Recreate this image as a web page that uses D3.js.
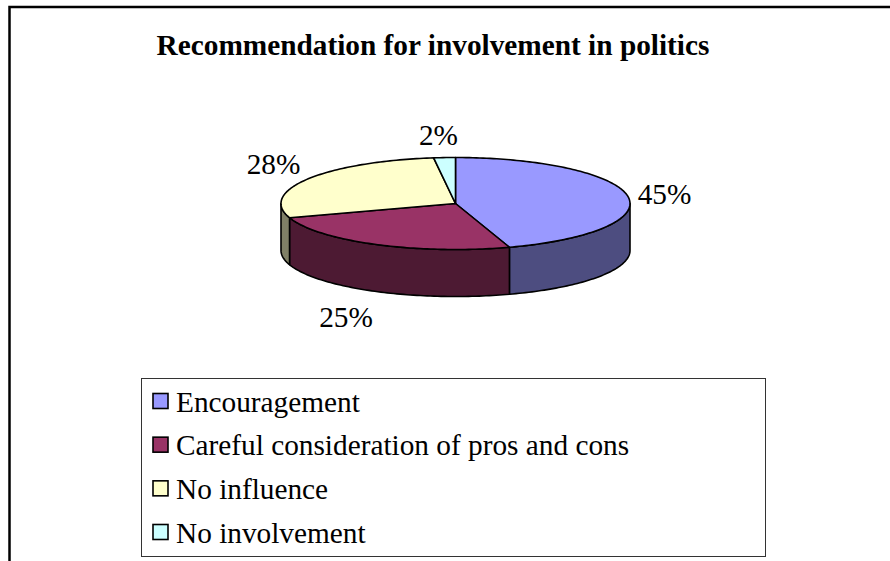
<!DOCTYPE html>
<html>
<head>
<meta charset="utf-8">
<script src="https://cdn.jsdelivr.net/npm/d3@7"></script>
<style>
    html, body { margin: 0; padding: 0; background: #fff; }
    svg { display: block; }
    text { font-family: "Liberation Serif", "Times New Roman", serif; fill: #000; }
</style>
</head>
<body>
<div id="canvas"></div>
<script>
var categories = ["Encouragement", "Careful consideration of pros and cons", "No influence", "No involvement"];
var values = [45, 25, 28, 2];
var colors = ["#9999ff", "#993366", "#ffffcc", "#ccffff"];

var width = 890, height = 561;
var cx = 455.5, cy = 203.5, rx = 174.5, ry = 46, depth = 47;

var svg = d3.select("#canvas").append("svg").attr("width", width).attr("height", height);

// outer frame, runs off the right and bottom of the picture
svg.append("path")
    .attr("d", d3.line()([[9.5, height], [9.5, 7], [width, 7]]))
    .attr("fill", "none").attr("stroke", "#000").attr("stroke-width", 2.5);

svg.append("text")
    .attr("x", 433).attr("y", 54.5)
    .attr("text-anchor", "middle")
    .attr("font-size", 29.3).attr("font-weight", "bold")
    .text("Recommendation for involvement in politics");

var pie = d3.pie().sort(null);
var slices = pie(values);

// angle (0 = 12 o'clock, clockwise) to the squashed ellipse
var px = d3.scaleLinear().domain([-1, 1]).range([cx - rx, cx + rx]);
var py = d3.scaleLinear().domain([-1, 1]).range([cy - ry, cy + ry]);
var pt = function(a, dy) {
    return [px(Math.sin(a)), py(-Math.cos(a)) + (dy || 0)];
};
var arcPts = function(a0, a1, dy) {
    var n = Math.max(2, Math.ceil(Math.abs(a1 - a0) / 0.02));
    return d3.range(n + 1).map(function(i) {
        return pt(a0 + (a1 - a0) * i / n, dy);
    });
};
var line = d3.line();

var sideColor = function(c) {
    var r = d3.rgb(c);
    return d3.rgb(r.r * 0.5, r.g * 0.5, r.b * 0.5).formatHex();
};

// outer wall: only the part of each slice on the front half (pi/2 .. 3pi/2)
slices.forEach(function(d, i) {
    var a0 = Math.max(d.startAngle, Math.PI / 2);
    var a1 = Math.min(d.endAngle, Math.PI * 1.5);
    if (a1 <= a0) return;
    var pts = arcPts(a0, a1, 0).concat(arcPts(a1, a0, depth));
    svg.append("path")
        .attr("d", line(pts) + "Z")
        .attr("fill", sideColor(colors[i]))
        .attr("stroke", "#000").attr("stroke-width", 1.6).attr("stroke-linejoin", "round");
});

// top faces
slices.forEach(function(d, i) {
    var pts = [[cx, cy]].concat(arcPts(d.startAngle, d.endAngle, 0));
    svg.append("path")
        .attr("d", line(pts) + "Z")
        .attr("fill", colors[i])
        .attr("stroke", "#000").attr("stroke-width", 1.6).attr("stroke-linejoin", "round");
});

// percent labels
var labelPos = [[664.5, 203.5], [346, 327], [273.5, 174], [438.5, 145]];
slices.forEach(function(d, i) {
    svg.append("text")
        .attr("x", labelPos[i][0]).attr("y", labelPos[i][1])
        .attr("text-anchor", "middle")
        .attr("font-size", 29.3)
        .text(d.value + "%");
});

// legend
svg.append("rect")
    .attr("x", 141.5).attr("y", 378.5).attr("width", 624).attr("height", 178)
    .attr("fill", "#fff").attr("stroke", "#333").attr("stroke-width", 1);

var rowY = d3.scalePoint().domain(categories).range([401, 532]);
categories.forEach(function(c, i) {
    svg.append("rect")
        .attr("x", 153).attr("y", rowY(c) - 7.5).attr("width", 15).attr("height", 15)
        .attr("fill", colors[i]).attr("stroke", "#000").attr("stroke-width", 1.6);
    svg.append("text")
        .attr("x", 176).attr("y", rowY(c) + 10.5)
        .attr("font-size", 29.3)
        .text(c);
});
</script>
</body>
</html>
